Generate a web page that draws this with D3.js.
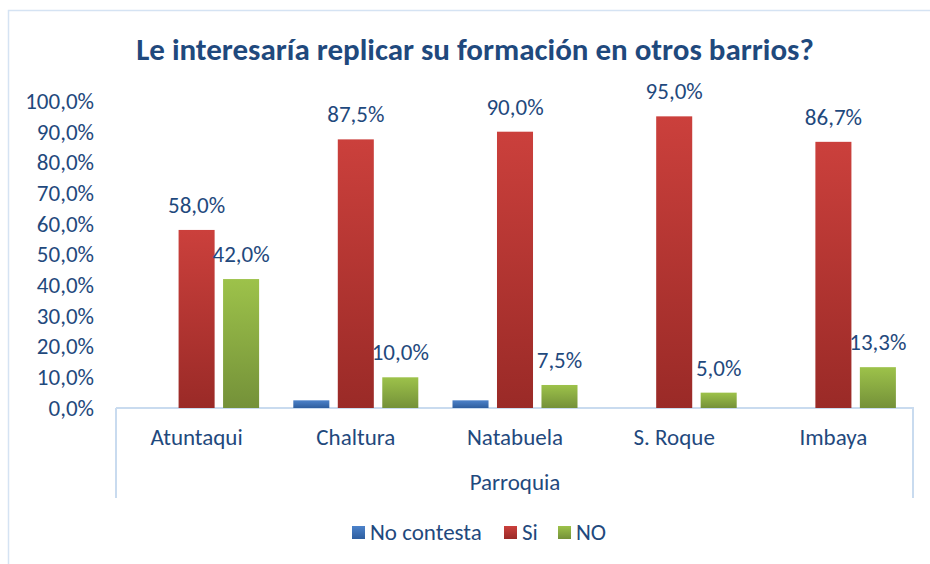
<!DOCTYPE html>
<html>
<head>
<meta charset="utf-8">
<script src="https://cdn.jsdelivr.net/npm/d3@7"></script>
<style>
  body { margin: 0; background: #fff; }
  text { font-family: Carlito, Calibri, Lato, sans-serif; fill: #1F497D; }
</style>
</head>
<body>
<script>
// data
var categories = ['Atuntaqui', 'Chaltura', 'Natabuela', 'S. Roque', 'Imbaya'];
var seriesNames = ['No contesta', 'Si', 'NO'];
var noContesta = [0, 2.5, 2.5, 0, 0];
var si = [58.0, 87.5, 90.0, 95.0, 86.7];
var no = [42.0, 10.0, 7.5, 5.0, 13.3];
var yTicks = [0, 10, 20, 30, 40, 50, 60, 70, 80, 90, 100];

var width = 930, height = 564;

// colours: [top, bottom] of each bar gradient
var colors = [['#4C82CA', '#2E5E9F'], ['#CB403C', '#9A2A27'], ['#9DC24A', '#749139']];

var svg = d3.select('body').append('svg')
  .attr('width', width)
  .attr('height', height);

// gradients for the bars
var defs = svg.append('defs');
colors.forEach(function(c, i) {
  var g = defs.append('linearGradient')
    .attr('id', 'grad' + i)
    .attr('x1', 0).attr('y1', 0).attr('x2', 0).attr('y2', 1);
  g.append('stop').attr('offset', '0%').attr('stop-color', c[0]);
  g.append('stop').attr('offset', '100%').attr('stop-color', c[1]);
});

// outer chart border (runs off the page on the right and bottom)
svg.append('rect')
  .attr('x', 8.5).attr('y', 10.5)
  .attr('width', 1000).attr('height', 1000)
  .attr('fill', 'none')
  .attr('stroke', '#D5E3F3')
  .attr('stroke-width', 1.5);

var x0 = d3.scaleBand()
  .domain(categories)
  .range([117, 913]);

// 36px bars on a 44.5px step
var x1 = d3.scaleBand()
  .domain(seriesNames)
  .range([-62.5, 62.5])
  .paddingInner(0.19);

var y = d3.scaleLinear()
  .domain([0, 100])
  .range([408, 101]);

// title
svg.append('text')
  .attr('x', 475)
  .attr('y', 60)
  .attr('text-anchor', 'middle')
  .style('font-size', '31px')
  .style('font-weight', 'bold')
  .text('Le interesaría replicar su formación en otros barrios?');

// y axis labels (no axis line)
var fmt = function(v) { return v.toFixed(1).replace('.', ',') + '%'; };
var yAxis = d3.axisLeft(y)
  .tickValues(yTicks)
  .tickFormat(fmt)
  .tickSize(0)
  .tickPadding(0);
var gy = svg.append('g')
  .attr('transform', 'translate(94,0)')
  .call(yAxis);
gy.select('.domain').remove();
gy.selectAll('text')
  .style('font-size', '23px')
  .attr('fill', '#1F497D');

// category axis box
var box = svg.append('g')
  .attr('stroke', '#C9DBEF')
  .attr('stroke-width', 2)
  .attr('fill', 'none');
box.append('line').attr('x1', 116).attr('x2', 914).attr('y1', 408).attr('y2', 408);
box.append('line').attr('x1', 116).attr('x2', 116).attr('y1', 408).attr('y2', 498);
box.append('line').attr('x1', 913).attr('x2', 913).attr('y1', 408).attr('y2', 498);

var xAxis = d3.axisBottom(x0).tickSize(0).tickPadding(0);
var gx = svg.append('g')
  .attr('transform', 'translate(0,429)')
  .call(xAxis);
gx.select('.domain').remove();
gx.selectAll('text')
  .attr('dy', '0.71em')
  .style('font-size', '23px')
  .attr('fill', '#1F497D');

svg.append('text')
  .attr('x', x0(categories[2]) + x0.bandwidth() / 2)
  .attr('y', 490)
  .attr('text-anchor', 'middle')
  .style('font-size', '23px')
  .text('Parroquia');

// bars
var rows = categories.map(function(c, i) {
  return { cat: c, vals: [noContesta[i], si[i], no[i]] };
});

var groups = svg.selectAll('g.grp')
  .data(rows)
  .enter().append('g')
  .attr('class', 'grp')
  .attr('transform', function(d) {
    return 'translate(' + (x0(d.cat) + x0.bandwidth() / 2) + ',0)';
  });

groups.selectAll('rect')
  .data(function(d) {
    return d.vals.map(function(v, j) { return { s: seriesNames[j], j: j, v: v }; });
  })
  .enter().append('rect')
  .filter(function(d) { return d.v > 0; })
  .attr('x', function(d) { return x1(d.s); })
  .attr('y', function(d) { return y(d.v); })
  .attr('width', x1.bandwidth())
  .attr('height', function(d) { return y(0) - y(d.v); })
  .attr('fill', function(d) { return 'url(#grad' + d.j + ')'; });

// value labels (not for the blue "No contesta" bars)
groups.selectAll('text.lbl')
  .data(function(d) {
    return d.vals.map(function(v, j) { return { s: seriesNames[j], j: j, v: v }; })
      .filter(function(e) { return e.j > 0 && e.v > 0; });
  })
  .enter().append('text')
  .attr('class', 'lbl')
  .attr('x', function(d) { return x1(d.s) + x1.bandwidth() / 2; })
  .attr('y', function(d) { return y(d.v) - 17; })
  .attr('text-anchor', 'middle')
  .style('font-size', '23px')
  .text(function(d) { return fmt(d.v); });

// legend
var legendX = [352, 504, 558];
var legend = svg.selectAll('g.leg')
  .data(seriesNames)
  .enter().append('g')
  .attr('class', 'leg')
  .attr('transform', function(d, i) { return 'translate(' + legendX[i] + ',526)'; });
legend.append('rect')
  .attr('width', 13).attr('height', 13)
  .attr('fill', function(d, i) { return 'url(#grad' + i + ')'; });
legend.append('text')
  .attr('x', 18)
  .attr('y', 13.5)
  .style('font-size', '23px')
  .text(function(d) { return d; });
</script>
</body>
</html>
